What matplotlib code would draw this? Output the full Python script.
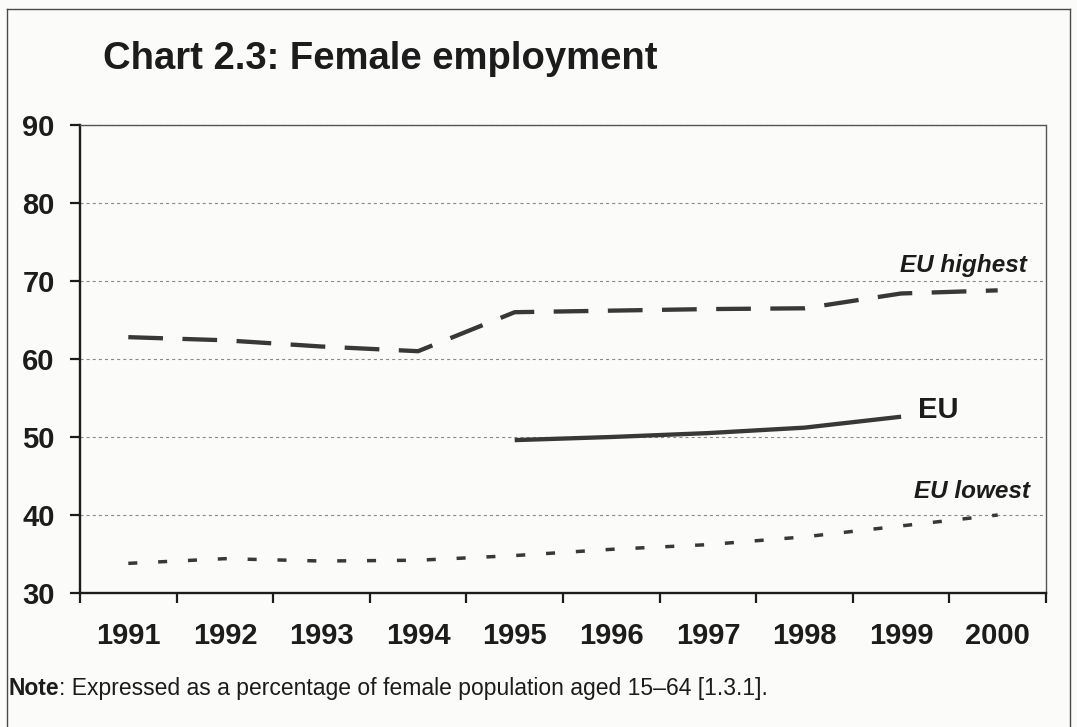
import numpy as np
import matplotlib.pyplot as plt
from matplotlib.lines import Line2D

plt.rcParams["font.family"] = ["Liberation Sans", "DejaVu Sans"]
plt.rcParams["lines.scale_dashes"] = False

# female employment rate, % of female population aged 15-64
years = ["1991", "1992", "1993", "1994", "1995", "1996", "1997", "1998", "1999", "2000"]
eu_highest = [62.8, 62.4, 61.6, 61.0, 66.0, 66.2, 66.4, 66.5, 68.4, 68.8]
eu_lowest = [33.8, 34.4, 34.1, 34.2, 34.8, 35.6, 36.2, 37.2, 38.6, 40.0]
eu_years = ["1995", "1996", "1997", "1998", "1999"]
eu_avg = [49.6, 50.0, 50.5, 51.2, 52.6]

INK = "#1c1c1c"
LINE = "#383838"
BG = "#fbfbf9"


def main():
    W, H = 1077, 727
    fig = plt.figure(figsize=(W / 100, H / 100), dpi=100, facecolor=BG)
    ax = fig.add_axes([80 / W, 1 - 593 / H, (1046 - 80) / W, (593 - 125) / H])
    ax.set_facecolor(BG)

    x = np.arange(len(years))
    x_eu = np.array([years.index(y) for y in eu_years])

    ax.plot(x, eu_highest, color=LINE, lw=3.1, dashes=(25, 14), dash_capstyle="butt")
    ax.plot(x_eu, eu_avg, color=LINE, lw=3.1, solid_capstyle="butt")
    ax.plot(x, eu_lowest, color=LINE, lw=2.5, dashes=(6.5, 15), dash_capstyle="butt")

    ax.set_xlim(-0.5, len(years) - 0.5)
    ax.set_ylim(30, 90)

    # labels at category centres, tick marks between categories
    ax.set_xticks(x)
    ax.set_xticklabels(years, fontsize=21, fontweight="bold", color=INK)
    ax.set_xticks(np.arange(-0.5, len(years)), minor=True)
    ax.tick_params(axis="x", which="major", length=0, pad=21)
    ax.tick_params(axis="x", which="minor", length=7.2, width=1.6, color=INK, direction="out")

    ax.set_yticks(range(30, 91, 10))
    ax.set_yticklabels([str(v) for v in range(30, 91, 10)], fontsize=21, fontweight="bold", color=INK)
    ax.tick_params(axis="y", length=7.2, width=1.6, color=INK, pad=11)

    ax.yaxis.grid(True, color="#8a8a8a", lw=0.8, linestyle=(0, (2.2, 2.2)))
    ax.set_axisbelow(True)

    for side in ("left", "bottom"):
        ax.spines[side].set_color(INK)
        ax.spines[side].set_linewidth(1.7)
    for side in ("top", "right"):
        ax.spines[side].set_color("#555555")
        ax.spines[side].set_linewidth(1.0)
        ax.spines[side].set_linestyle((0, (1, 1)))

    # series labels next to the last point of each line
    ax.annotate("EU highest", xy=(x[-1], eu_highest[-1]), xytext=(21, 13.5),
                textcoords="offset points", ha="right", va="baseline",
                fontsize=17.5, fontweight="bold", fontstyle="italic", color=INK)
    ax.annotate("EU lowest", xy=(x[-1], eu_lowest[-1]), xytext=(23, 12),
                textcoords="offset points", ha="right", va="baseline",
                fontsize=17.5, fontweight="bold", fontstyle="italic", color=INK)
    ax.annotate("EU", xy=(x_eu[-1], eu_avg[-1]), xytext=(12, -1),
                textcoords="offset points", ha="left", va="baseline",
                fontsize=21, fontweight="bold", color=INK)

    fig.text(103 / W, 1 - 69 / H, "Chart 2.3: Female employment",
             fontsize=27.5, fontweight="bold", color=INK, va="baseline")

    # note line: bold lead word followed by regular text
    nx, ny = 8 / W, 1 - 695 / H
    lead = fig.text(nx, ny, "Note", fontsize=16.5, fontweight="bold", color=INK, va="baseline")
    r = fig.canvas.get_renderer()
    bb = lead.get_window_extent(renderer=r)
    fig.text(bb.x1 / W, ny,
             ": Expressed as a percentage of female population aged 15\u201364 [1.3.1].",
             fontsize=16.5, color=INK, va="baseline")

    # outer frame of the panel
    fc = "#4a4a4a"
    fig.add_artist(Line2D([7 / W, 7 / W], [0, 1 - 9 / H], color=fc, lw=1.0))
    fig.add_artist(Line2D([7 / W, 1070 / W], [1 - 9 / H, 1 - 9 / H], color=fc, lw=1.0))
    fig.add_artist(Line2D([1070 / W, 1070 / W], [0, 1 - 9 / H], color=fc, lw=1.0))

    fig.savefig("out.png", dpi=100, facecolor=BG)


if __name__ == "__main__":
    main()
